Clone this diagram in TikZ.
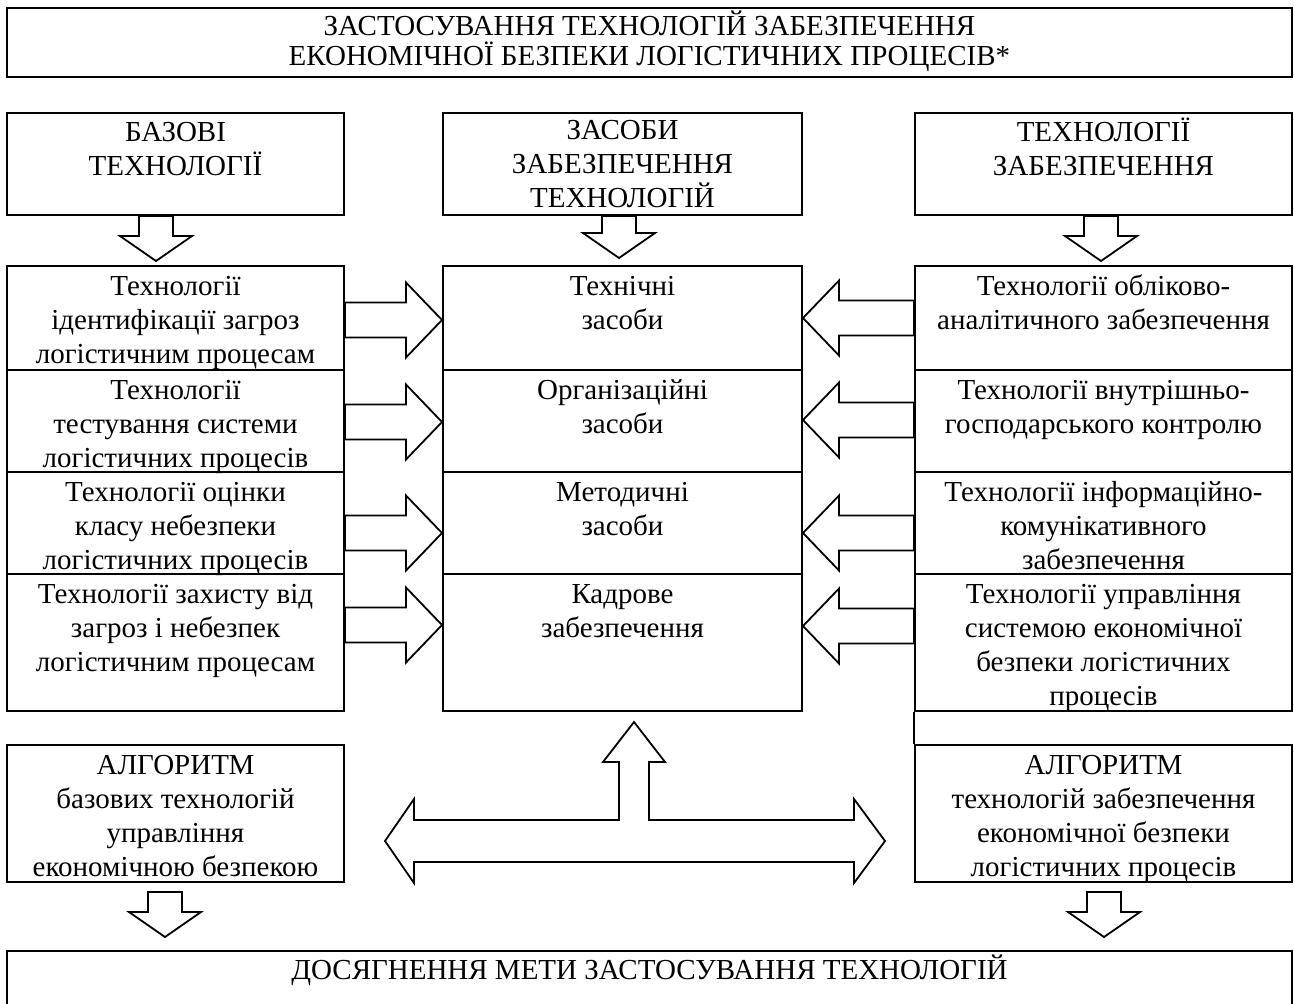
\documentclass[tikz,border=0pt]{standalone}
\usepackage{fontspec}
\setmainfont{Liberation Serif}
\usetikzlibrary{calc}
\usetikzlibrary{fit}

\newcommand\tstrut{\rule{0pt}{12pt}}

\tikzset{
  box/.style={draw, line width=1pt, inner sep=0pt},
  txt/.style={anchor=north, align=center, inner sep=0pt, font=\fontsize{14.5}{17}\selectfont},
  fat/.style={draw, line width=0.9pt, fill=white, line join=miter},
}

% block arrow, horizontal: start, tip
\newcommand\harrow[2]{%
  \draw[fat] let \p1=(#1), \p2=(#2), \n1={(\x2-\x1)/abs(\x2-\x1)} in
    (\x1,{\y1+8.75pt}) -- ({\x2-(\n1)*18pt},{\y1+8.75pt}) -- ({\x2-(\n1)*18pt},{\y1+18.75pt})
    -- (\x2,\y1) -- ({\x2-(\n1)*18pt},{\y1-18.75pt}) -- ({\x2-(\n1)*18pt},{\y1-8.75pt})
    -- (\x1,{\y1-8.75pt}) -- cycle;}
% block arrow, vertical: start, tip
\newcommand\varrow[2]{%
  \draw[fat] let \p1=(#1), \p2=(#2), \n1={(\y2-\y1)/abs(\y2-\y1)} in
    ({\x1-8.5pt},\y1) -- ({\x1-8.5pt},{\y2-(\n1)*12.5pt}) -- ({\x1-18pt},{\y2-(\n1)*12.5pt})
    -- (\x1,\y2) -- ({\x1+18pt},{\y2-(\n1)*12.5pt}) -- ({\x1+8.5pt},{\y2-(\n1)*12.5pt})
    -- ({\x1+8.5pt},\y1) -- cycle;}

\begin{document}
\begin{tikzpicture}[x=0.5pt, y=-0.5pt]
  \useasboundingbox (0,0) rectangle (1294,1003);
  \clip (0,0) rectangle (1294,1003);

  % title
  \node[box, fit={(7,8) (1292,77)}] (title) {};
  \node[txt, font=\fontsize{14.5}{15}\selectfont] (title-t) at ([yshift=-2pt]title.north)
    {\tstrut ЗАСТОСУВАННЯ ТЕХНОЛОГІЙ ЗАБЕЗПЕЧЕННЯ\\ЕКОНОМІЧНОЇ БЕЗПЕКИ ЛОГІСТИЧНИХ ПРОЦЕСІВ*};

  % headers
  \node[box, fit={(7,113) (344,215)}] (bas) {};
  \node[box, fit={(443,113) (802,215)}] (zas) {};
  \node[box, fit={(915,113) (1292,215)}] (tez) {};
  \node[txt] (bas-t) at ([yshift=-2.5pt]bas.north) {\tstrut БАЗОВІ\\ТЕХНОЛОГІЇ};
  \node[txt] (zas-t) at ([yshift=-1.5pt]zas.north) {\tstrut ЗАСОБИ\\ЗАБЕЗПЕЧЕННЯ\\ТЕХНОЛОГІЙ};
  \node[txt] (tez-t) at ([yshift=-2.5pt]tez.north) {\tstrut ТЕХНОЛОГІЇ\\ЗАБЕЗПЕЧЕННЯ};

  % three columns of rows
  \foreach \k/\ya/\yb in {1/266/370, 2/370/472, 3/472/574, 4/574/711} {
    \node[box, fit={(7,\ya) (344,\yb)}] (l\k) {};
    \node[box, fit={(443,\ya) (802,\yb)}] (m\k) {};
    \node[box, fit={(915,\ya) (1292,\yb)}] (r\k) {};
  }

  \node[txt] (l1-t) at ([yshift=-3pt]l1.north) {\tstrut Технології\\ідентифікації загроз\\логістичним процесам};
  \node[txt] (l2-t) at ([yshift=-3pt]l2.north) {\tstrut Технології\\тестування системи\\логістичних процесів};
  \node[txt] (l3-t) at ([yshift=-3pt]l3.north) {\tstrut Технології оцінки\\класу небезпеки\\логістичних процесів};
  \node[txt] (l4-t) at ([yshift=-3pt]l4.north) {\tstrut Технології захисту від\\загроз і небезпек\\логістичним процесам};

  \node[txt] (m1-t) at ([yshift=-3pt]m1.north) {\tstrut Технічні\\засоби};
  \node[txt] (m2-t) at ([yshift=-3pt]m2.north) {\tstrut Організаційні\\засоби};
  \node[txt] (m3-t) at ([yshift=-3pt]m3.north) {\tstrut Методичні\\засоби};
  \node[txt] (m4-t) at ([yshift=-3pt]m4.north) {\tstrut Кадрове\\забезпечення};

  \node[txt] (r1-t) at ([yshift=-3pt]r1.north) {\tstrut Технології обліково-\\аналітичного забезпечення};
  \node[txt] (r2-t) at ([yshift=-3pt]r2.north) {\tstrut Технології внутрішньо-\\господарського контролю};
  \node[txt] (r3-t) at ([yshift=-3pt]r3.north) {\tstrut Технології інформаційно-\\комунікативного\\забезпечення};
  \node[txt] (r4-t) at ([yshift=-3pt]r4.north) {\tstrut Технології управління\\системою економічної\\безпеки логістичних\\процесів};

  % algorithms and goal
  \node[box, fit={(7,745) (344,882)}] (alg1) {};
  \node[box, fit={(915,745) (1292,882)}] (alg2) {};
  \node[box, fit={(7,951) (1292,1030)}] (goal) {};
  \node[txt] (alg1-t) at ([yshift=-3pt]alg1.north) {\tstrut АЛГОРИТМ\\базових технологій\\управління\\економічною безпекою};
  \node[txt] (alg2-t) at ([yshift=-3pt]alg2.north) {\tstrut АЛГОРИТМ\\технологій забезпечення\\економічної безпеки\\логістичних процесів};
  \node[txt] (goal-t) at ([yshift=-2pt]goal.north) {\tstrut ДОСЯГНЕННЯ МЕТИ ЗАСТОСУВАННЯ ТЕХНОЛОГІЙ};

  \draw[line width=1pt] (r4.south west) -- (alg2.north west);

  % arrows down
  \varrow{bas.south -| 156,0}{$(l1.north -| 156,0)+(0,-4)$}
  \varrow{zas.south -| 619,0}{$(m1.north -| 619,0)+(0,-7)$}
  \varrow{tez.south -| 1101,0}{$(r1.north -| 1101,0)+(0,-4)$}
  \varrow{$(alg1.south -| 165,0)+(0,9)$}{$(goal.north -| 165,0)+(0,-13)$}
  \varrow{$(alg2.south -| 1104,0)+(0,9)$}{$(goal.north -| 1104,0)+(0,-13)$}

  % arrows into the middle column
  \foreach \k/\h in {1/320, 2/422, 3/533, 4/625}
    \harrow{l\k.east |- 0,\h}{m\k.west |- 0,\h};
  \foreach \k/\h in {1/318, 2/420, 3/533, 4/626}
    \harrow{r\k.west |- 0,\h}{m\k.east |- 0,\h};

  % double arrow with branch up
  \draw[fat] (634,722) -- (665,762) -- (649,762) -- (649,820) -- (854,820) -- (854,799)
    -- (885,841) -- (854,883) -- (854,862) -- (414,862) -- (414,883) -- (385,841)
    -- (414,799) -- (414,820) -- (619,820) -- (619,762) -- (603,762) -- cycle;
\end{tikzpicture}
\end{document}
